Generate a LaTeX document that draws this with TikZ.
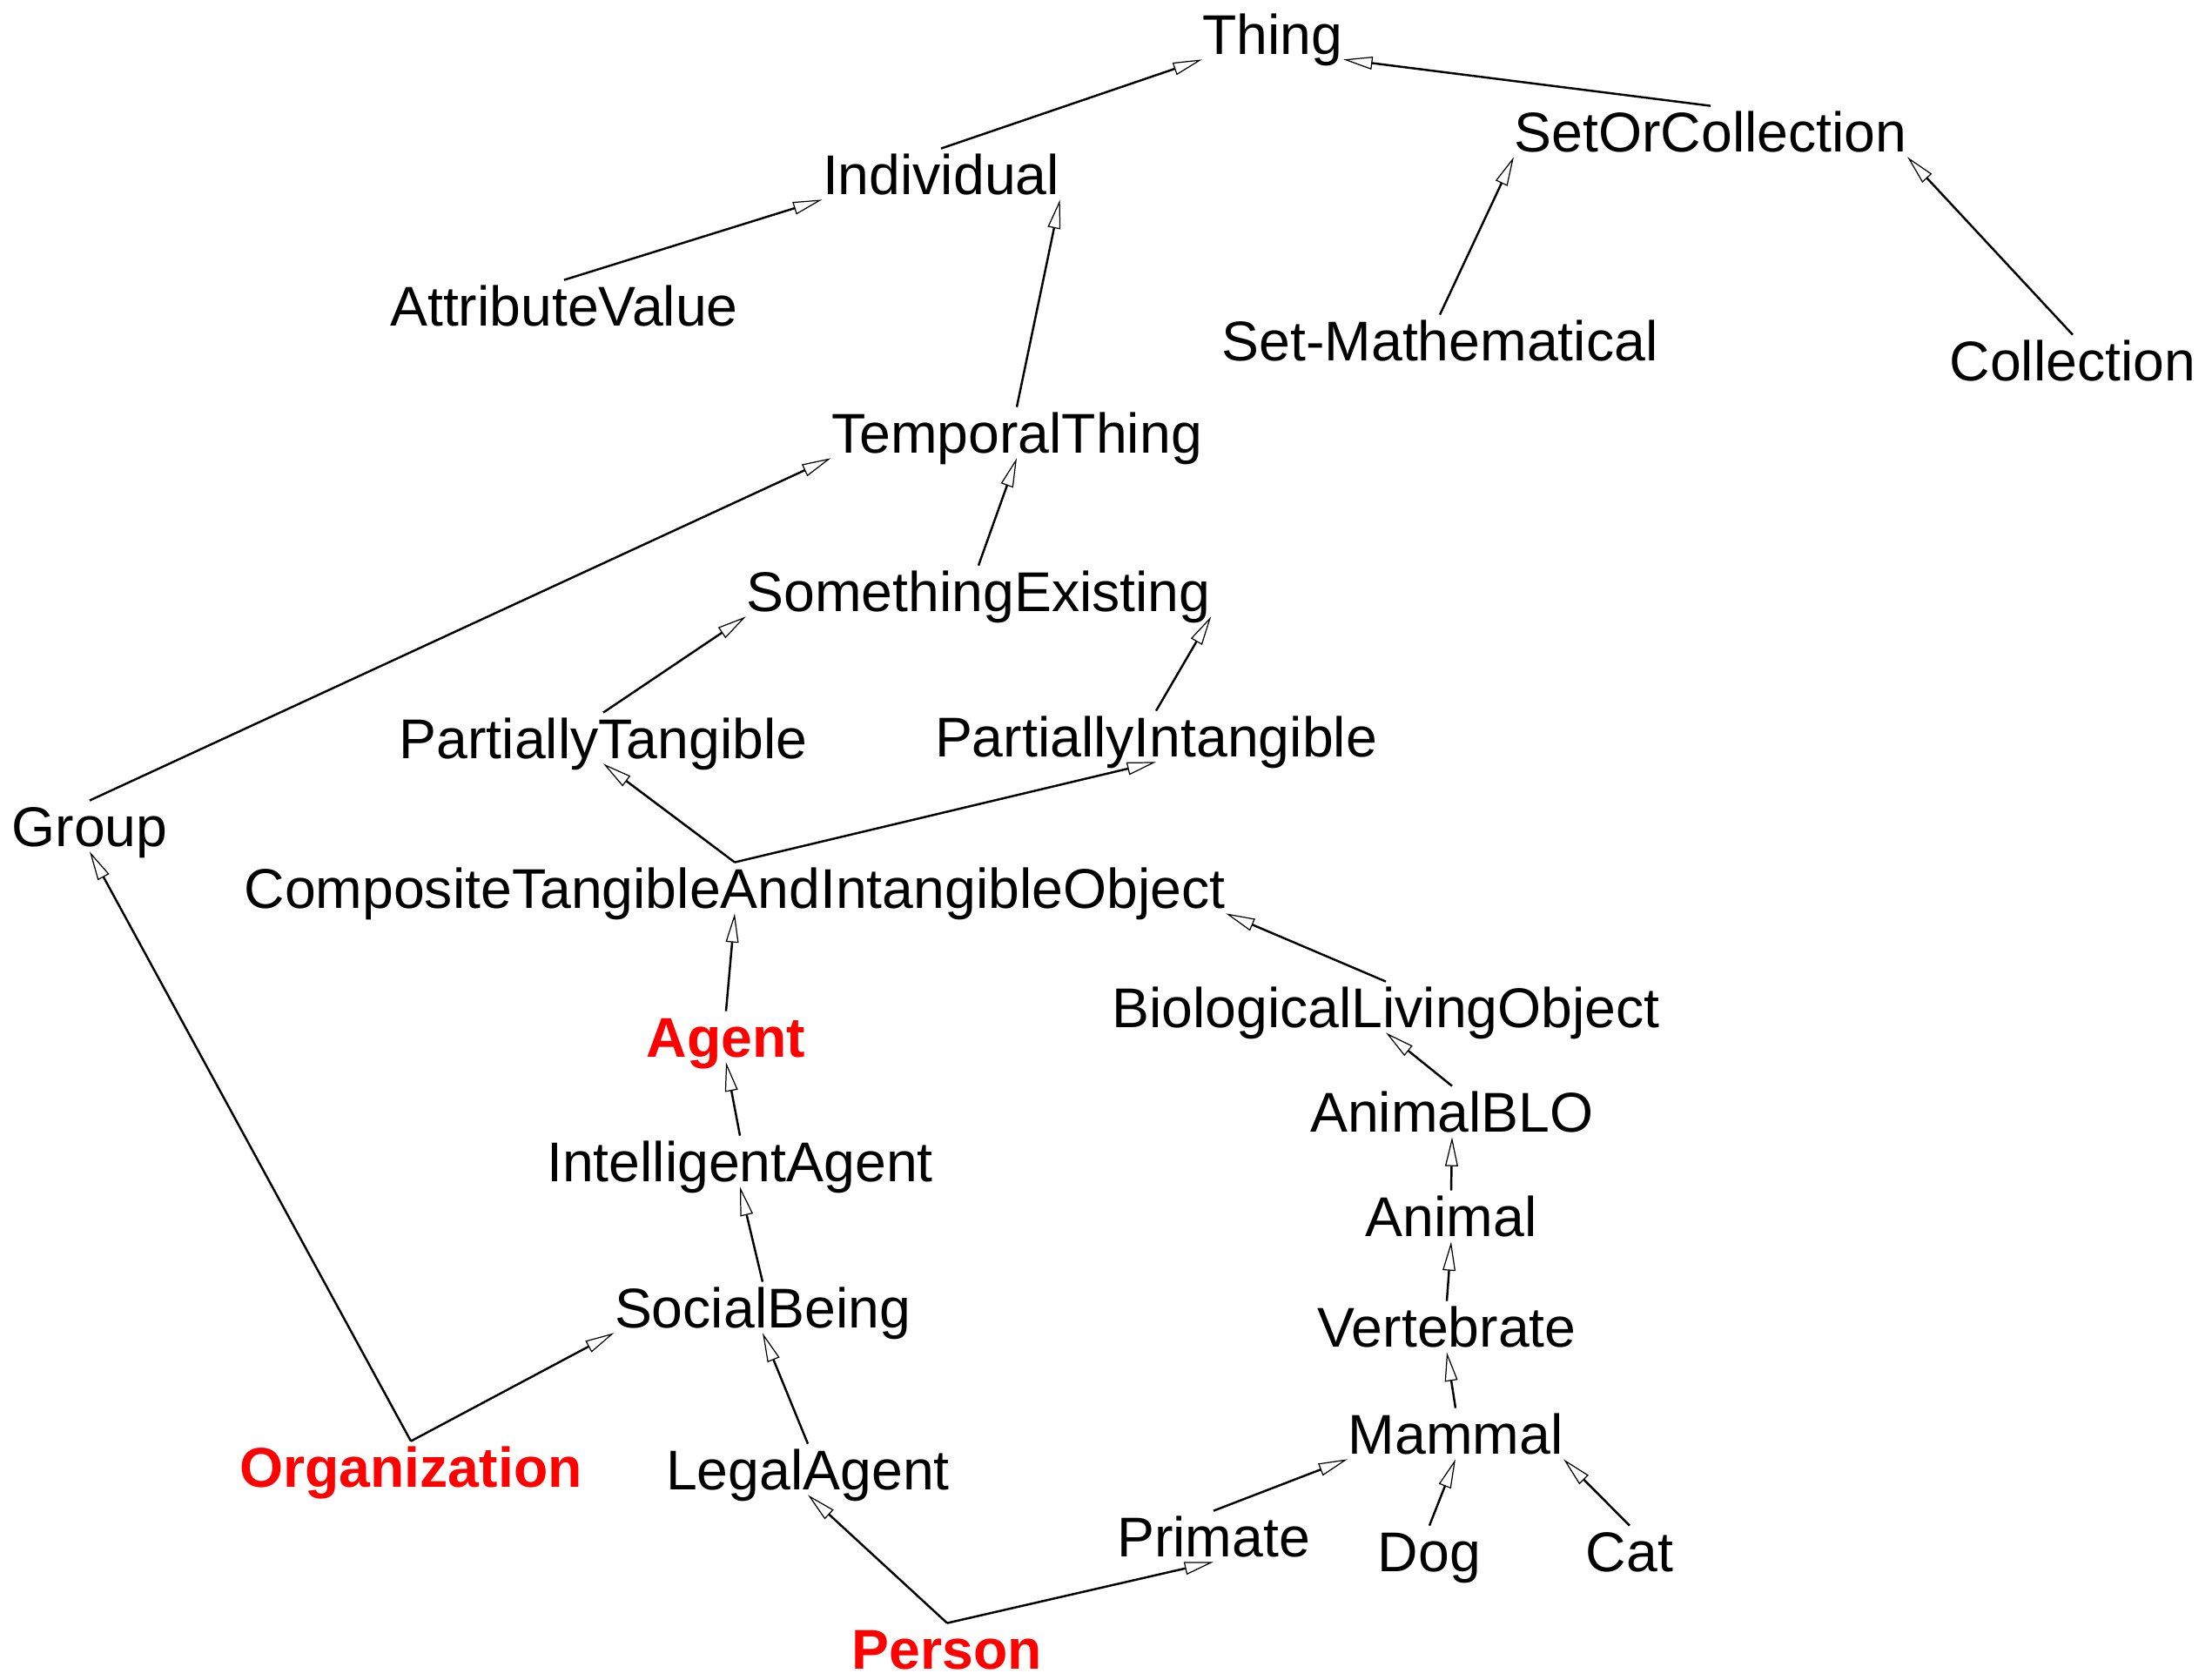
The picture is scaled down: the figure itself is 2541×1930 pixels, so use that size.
\documentclass[tikz,border=0pt]{standalone}
\usepackage{fontspec}
\setmainfont{Liberation Sans}
\usetikzlibrary{arrows.meta}

\begin{document}
\begin{tikzpicture}[x=0.01cm,y=-0.01cm,font=\fontsize{18.3}{22}\selectfont,cls/.style={anchor=base,inner xsep=0pt,inner ysep=1.6pt,text height=13.1pt,text depth=0pt},key/.style={cls,text=red,font=\fontsize{18.3}{22}\selectfont\bfseries},isa/.style={-{Triangle[length=9.5pt,width=4.2pt,fill=white,line width=0.35pt]},line width=0.7pt}]
\useasboundingbox (0,0) rectangle (2541,1930);
% upper part of the hierarchy
\node[cls] (thing) at (1462,62){Thing};
\node[cls] (individual) at (1081,223){Individual};
\node[cls] (setorcoll) at (1965,174){SetOrCollection};
\node[cls] (attrvalue) at (648,374){AttributeValue};
\node[cls] (setmath) at (1654,414){Set-Mathematical};
\node[cls] (collection) at (2381,437){Collection};
\node[cls] (temporal) at (1168,520){TemporalThing};
\node[cls] (existing) at (1124,702){SomethingExisting};
\node[cls] (parttang) at (693,871){PartiallyTangible};
\node[cls] (partintang) at (1328,869){PartiallyIntangible};
\node[cls] (group) at (103,972){Group};
\node[cls] (composite) at (844,1043){CompositeTangibleAndIntangibleObject};
% agents
\node[key] (agent) at (834,1214){Agent};
\node[cls] (intelagent) at (850,1357){IntelligentAgent};
\node[cls] (socialbeing) at (876,1525){SocialBeing};
\node[key] (organization) at (472,1708){Organization};
\node[cls] (legalagent) at (928,1711){LegalAgent};
\node[key] (person) at (1088,1917){Person};
% living things
\node[cls] (biolog) at (1592,1180){BiologicalLivingObject};
\node[cls] (animalblo) at (1668,1300){AnimalBLO};
\node[cls] (animal) at (1667,1420){Animal};
\node[cls] (vertebrate) at (1662,1547){Vertebrate};
\node[cls] (mammal) at (1672,1670){Mammal};
\node[cls] (primate) at (1394,1788){Primate};
\node[cls] (dog) at (1642,1805){Dog};
\node[cls] (cat) at (1872,1805){Cat};
\draw[isa] (individual.north) -- (thing.south west);\draw[isa] (setorcoll.north) -- (thing.south east);\draw[isa] (attrvalue.north) -- (individual.south west);\draw[isa] (temporal.north) -- (individual.south east);\draw[isa] (setmath.north) -- (setorcoll.south west);\draw[isa] (collection.north) -- (setorcoll.south east);
\draw[isa] (existing.north) -- (temporal.south);\draw[isa] (group.north) -- (temporal.south west);\draw[isa] (parttang.north) -- (existing.south west);\draw[isa] (partintang.north) -- (existing.south east);\draw[isa] (composite.north) -- (parttang.south);\draw[isa] (composite.north) -- (partintang.south);
\draw[isa] (agent.north) -- (composite.south);\draw[isa] (biolog.north) -- (composite.south east);\draw[isa] (intelagent.north) -- (agent.south);\draw[isa] (socialbeing.north) -- (intelagent.south);\draw[isa] (organization.north) -- (socialbeing.south west);\draw[isa] (organization.north) -- (group.south);\draw[isa] (legalagent.north) -- (socialbeing.south);\draw[isa] (person.north) -- (legalagent.south);\draw[isa] (person.north) -- (primate.south);
\draw[isa] (animalblo.north) -- (biolog.south);\draw[isa] (animal.north) -- (animalblo.south);\draw[isa] (vertebrate.north) -- (animal.south);\draw[isa] (mammal.north) -- (vertebrate.south);\draw[isa] (primate.north) -- (mammal.south west);\draw[isa] (dog.north) -- (mammal.south);\draw[isa] (cat.north) -- (mammal.south east);
\end{tikzpicture}
\end{document}
